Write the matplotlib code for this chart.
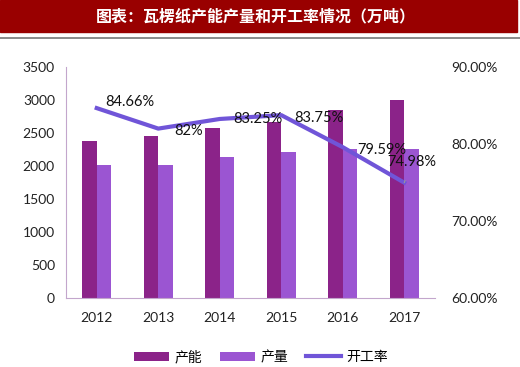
import matplotlib
matplotlib.use("Agg")
import matplotlib.pyplot as plt
import numpy as np

plt.rcParams['font.family'] = ['Lato', 'Noto Sans CJK SC', 'DejaVu Sans']

# 数据
years = ["2012", "2013", "2014", "2015", "2016", "2017"]
capacity = [2380, 2450, 2580, 2670, 2850, 3000]      # 产能
output = [2010, 2010, 2140, 2210, 2260, 2260]        # 产量
rate = [84.66, 82.0, 83.25, 83.75, 79.59, 74.98]     # 开工率 (%)
rate_labels = ["84.66%", "82%", "83.25%", "83.75%", "79.59%", "74.98%"]
label_offsets = [(33, 6), (30, -2), (38, 0), (38, -3), (39, -3), (8, 21)]

c_cap = "#8b2389"
c_out = "#9b55d2"
c_rate = "#7055d8"
axis_col = "#c3a6cc"

fig = plt.figure(figsize=(5.2, 3.67), dpi=100)

# 标题栏
fig.patches.append(plt.Rectangle((0, 1 - 32 / 367), 517 / 520, 32 / 367,
                                 transform=fig.transFigure, color="#990000", zorder=0))
fig.text(256 / 520, 1 - 16 / 367, "图表：瓦楞纸产能产量和开工率情况（万吨）",
         color="white", fontsize=11.5, fontweight="bold", ha="center", va="center",
         family=['Noto Sans CJK SC'])
fig.add_artist(plt.Line2D([0, 1], [1 - 38 / 367, 1 - 38 / 367], color="#777777", lw=1.2,
                          transform=fig.transFigure))

ax = fig.add_axes([66 / 520, 1 - 298 / 367, 369 / 520, 231 / 367])
x = np.arange(len(years))
w = 0.235
ax.bar(x - w / 2, capacity, w, color=c_cap, label="产能", zorder=2)
ax.bar(x + w / 2, output, w, color=c_out, label="产量", zorder=2)
ax.set_ylim(0, 3500)
ax.set_yticks(range(0, 3501, 500))
ax.set_xlim(-0.5, len(years) - 0.5)
ax.set_xticks(x)
ax.set_xticklabels(years)
for s in ["top", "right"]:
    ax.spines[s].set_visible(False)
ax.spines["left"].set_color(axis_col)
ax.spines["bottom"].set_color(axis_col)
ax.tick_params(length=0, labelsize=10, colors="#222222", pad=8)
ax.tick_params(axis="x", pad=10)

ax2 = ax.twinx()
ax2.plot(x, rate, color=c_rate, lw=3, label="开工率", zorder=3)
ax2.set_ylim(60, 90)
ax2.set_yticks([60, 70, 80, 90])
ax2.set_yticklabels(["60.00%", "70.00%", "80.00%", "90.00%"])
for s in ["top", "right", "left", "bottom"]:
    ax2.spines[s].set_visible(False)
ax2.tick_params(length=0, labelsize=10, colors="#222222", pad=12)

for i, (xi, r, lab, off) in enumerate(zip(x, rate, rate_labels, label_offsets)):
    arrow = None
    if i == len(x) - 1:
        arrow = dict(arrowstyle="-", color="#999999", lw=0.8, shrinkA=7, shrinkB=0)
    ax2.annotate(lab, (xi, r), xytext=off, textcoords="offset pixels",
                 ha="center", va="center", fontsize=10.5, color="#111111", zorder=4,
                 arrowprops=arrow)

h1, l1 = ax.get_legend_handles_labels()
h2, l2 = ax2.get_legend_handles_labels()
fig.legend(h1 + h2, l1 + l2, loc="center", bbox_to_anchor=(261 / 520, 1 - 357 / 367),
           ncol=3, frameon=False, handlelength=2.5, handleheight=0.6,
           handletextpad=0.4, columnspacing=1.3,
           prop={'family': ['Noto Sans CJK SC'], 'size': 10})

fig.savefig("out.png", dpi=100)
